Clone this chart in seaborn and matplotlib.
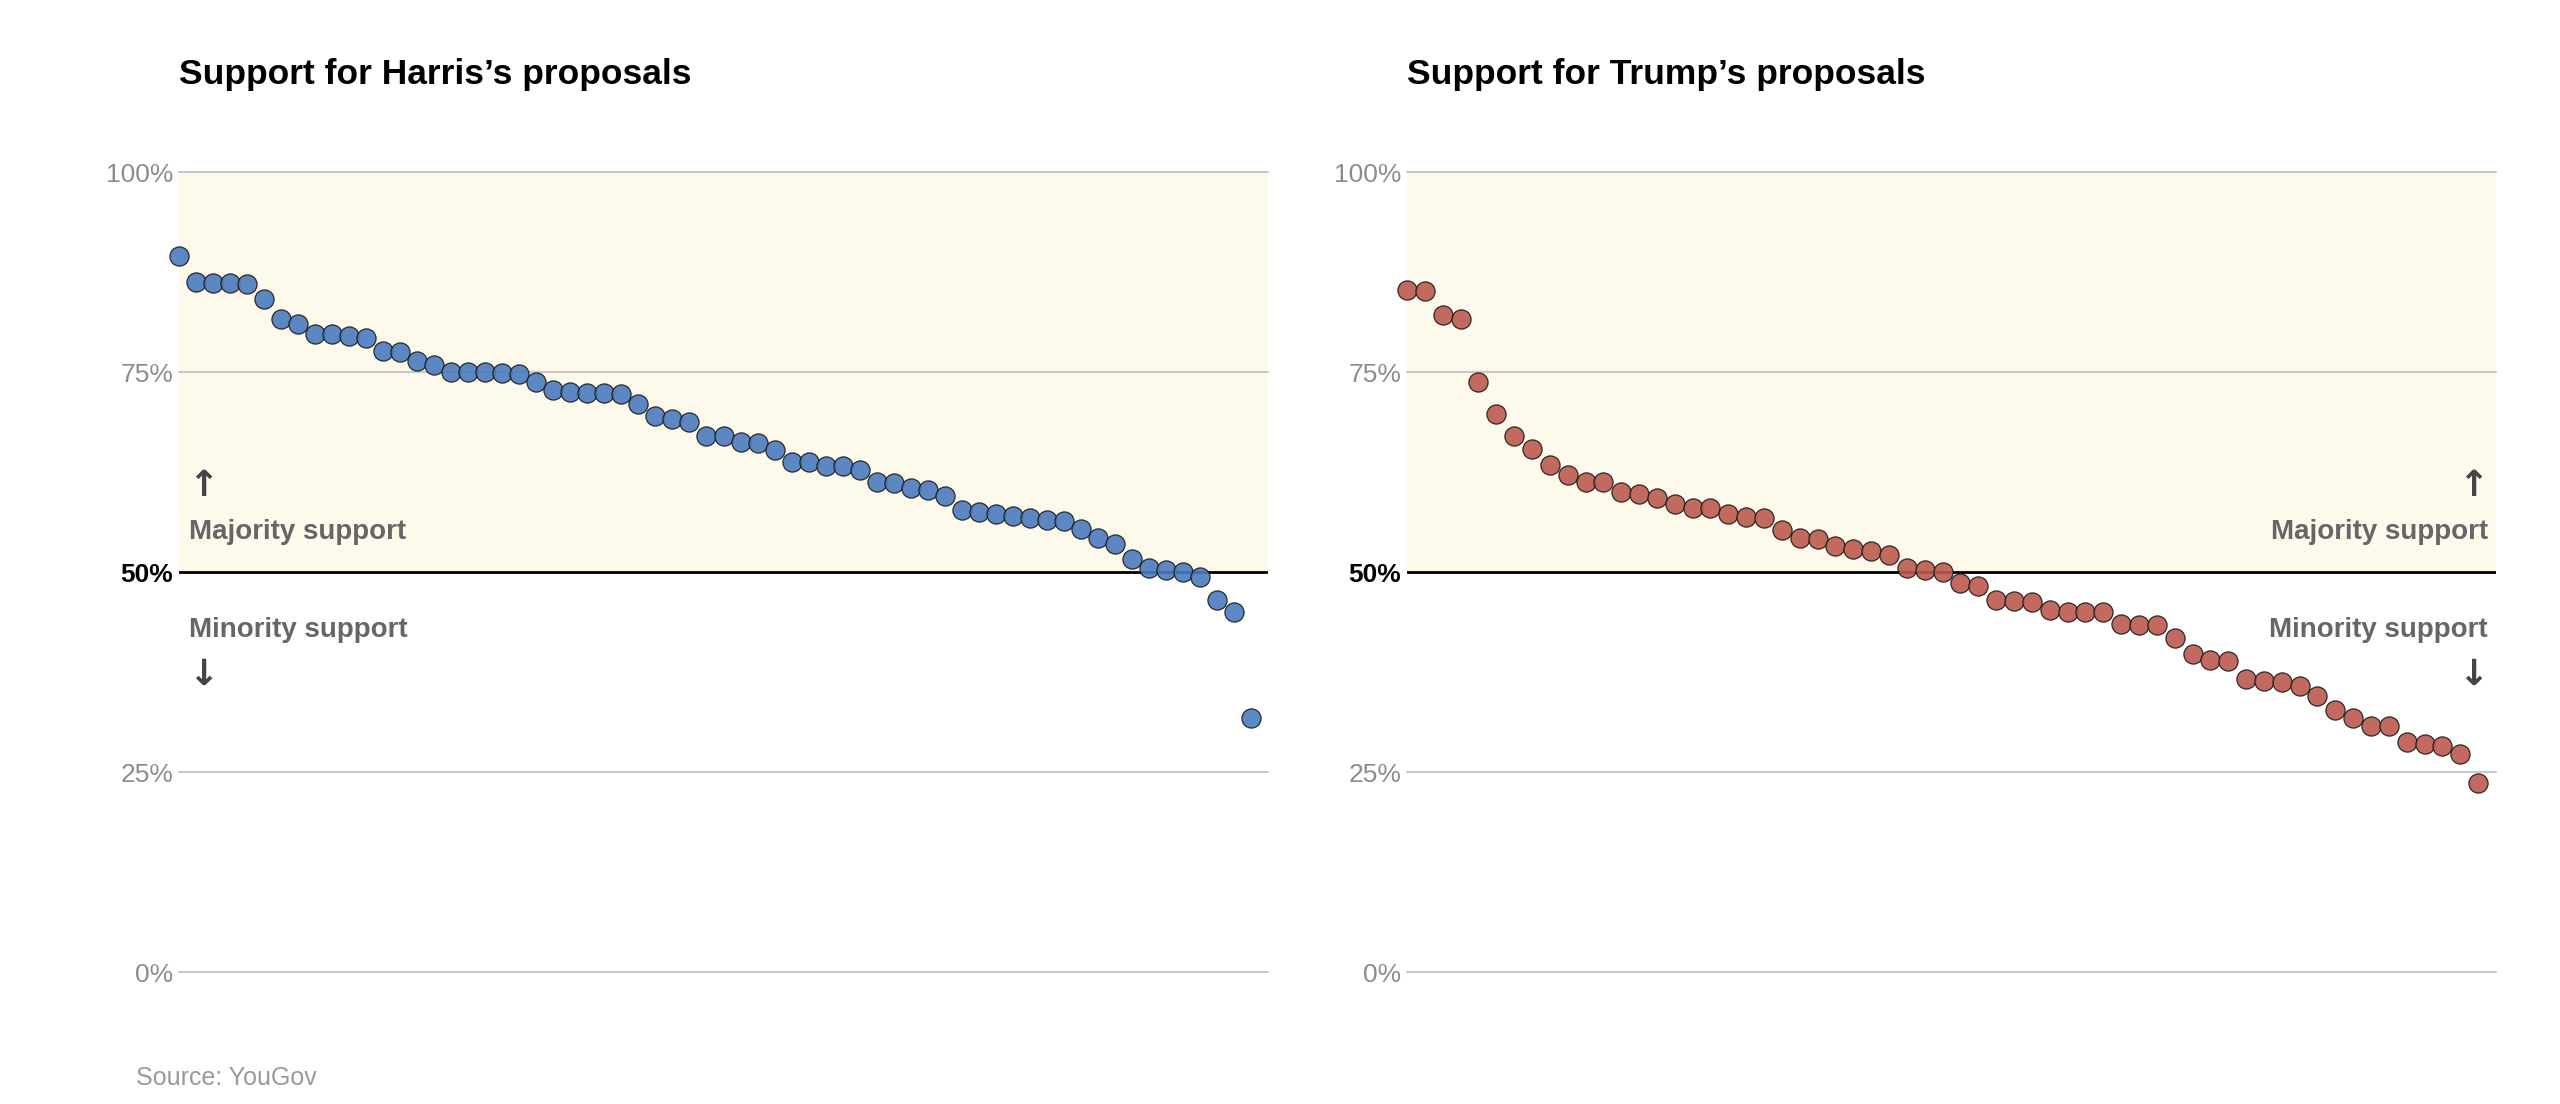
import numpy as np
import pandas as pd
import matplotlib.pyplot as plt
import seaborn as sns

# support share (%) for each proposal, sorted high to low
harris_support = [89.5, 86.2, 86.1, 86.1, 86.0, 84.1, 81.6, 81.0, 79.8, 79.8,
                  79.5, 79.3, 77.6, 77.5, 76.4, 75.9, 75.0, 75.0, 75.0, 74.9,
                  74.8, 73.7, 72.8, 72.5, 72.4, 72.4, 72.3, 71.0, 69.5, 69.1,
                  68.8, 67.0, 67.0, 66.3, 66.1, 65.2, 63.8, 63.7, 63.3, 63.2,
                  62.8, 61.2, 61.1, 60.5, 60.3, 59.5, 57.8, 57.5, 57.3, 57.0,
                  56.8, 56.5, 56.4, 55.4, 54.2, 53.5, 51.6, 50.5, 50.2, 50.0,
                  49.4, 46.5, 45.0, 31.8]
trump_support = [85.2, 85.1, 82.1, 81.6, 73.8, 69.8, 67.0, 65.4, 63.4, 62.1,
                 61.3, 61.2, 60.0, 59.8, 59.2, 58.5, 58.0, 58.0, 57.3, 56.9,
                 56.7, 55.2, 54.3, 54.1, 53.3, 52.9, 52.6, 52.1, 50.5, 50.3,
                 50.0, 48.6, 48.2, 46.5, 46.4, 46.3, 45.3, 45.0, 45.0, 45.0,
                 43.5, 43.4, 43.4, 41.7, 39.8, 39.0, 38.9, 36.6, 36.4, 36.2,
                 35.7, 34.5, 32.8, 31.8, 30.8, 30.8, 28.8, 28.5, 28.3, 27.3,
                 23.6]

titles = ["Support for Harris’s proposals", "Support for Trump’s proposals"]
dot_colors = ["#4a7bbf", "#bd5a4f"]
tick_values = [0, 25, 50, 75, 100]
tick_labels = ["0%", "25%", "50%", "75%", "100%"]

sns.set_style("white")
plt.rcParams['font.family'] = ['Liberation Sans', 'DejaVu Sans']

W, H = 2560, 1104
fig = plt.figure(figsize=(W / 100, H / 100), dpi=100)

panels = [(179, 1268), (1407, 2496)]
top_px, bottom_px = 172, 972

for k, (vals, title, color) in enumerate(zip([harris_support, trump_support], titles, dot_colors)):
    x0, x1 = panels[k]
    ax = fig.add_axes([x0 / W, 1 - bottom_px / H, (x1 - x0) / W, (bottom_px - top_px) / H])
    df = pd.DataFrame({"rank": np.arange(len(vals)), "support": vals})

    ax.axhspan(50, 100, color="#fdf9eb", zorder=0, lw=0)
    for t in [0, 25, 75, 100]:
        ax.axhline(t, color="#c8c8c8", lw=1.5, zorder=1, clip_on=False)
    ax.axhline(50, color="black", lw=2, zorder=2)

    sns.scatterplot(data=df, x="rank", y="support", ax=ax, s=190, color=color,
                    edgecolor="#1a1a1a", linewidth=0.9, alpha=0.9, zorder=3,
                    legend=False, clip_on=False)

    ax.set_xlim(0, len(vals))
    ax.set_ylim(0, 100)
    ax.set_xticks([])
    ax.set_yticks(tick_values, tick_labels)
    ax.tick_params(axis='y', length=0, pad=4, labelsize=19, labelcolor="#8c8c8c")
    lab50 = ax.get_yticklabels()[2]
    lab50.set_fontweight('bold')
    lab50.set_color('black')
    ax.set_xlabel("")
    ax.set_ylabel("")
    for sp in ax.spines.values():
        sp.set_visible(False)

    tr = ax.get_yaxis_transform()
    if k == 0:
        tx, ha, arx = 0.009, 'left', 0.0225
    else:
        tx, ha, arx = 0.9927, 'right', 0.979
    ax.text(tx, 55.0, "Majority support", transform=tr, ha=ha, va='center',
            fontsize=20, fontweight='bold', color="#666666")
    ax.text(tx, 42.75, "Minority support", transform=tr, ha=ha, va='center',
            fontsize=20, fontweight='bold', color="#666666")
    ax.text(arx, 60.7, "↑", transform=tr, ha='center', va='center',
            fontsize=26, fontweight='bold', color="#444444", family='DejaVu Sans')
    ax.text(arx, 37.1, "↓", transform=tr, ha='center', va='center',
            fontsize=26, fontweight='bold', color="#444444", family='DejaVu Sans')

    fig.text(x0 / W, 1 - 84 / H, title, ha='left', va='baseline',
             fontsize=25.5, fontweight='bold', color='black')

fig.text(136 / W, 1 - 1085 / H, "Source: YouGov", ha='left', va='baseline',
         fontsize=18, color="#9a9a9a")

plt.savefig("out.png", dpi=100)
plt.close()
